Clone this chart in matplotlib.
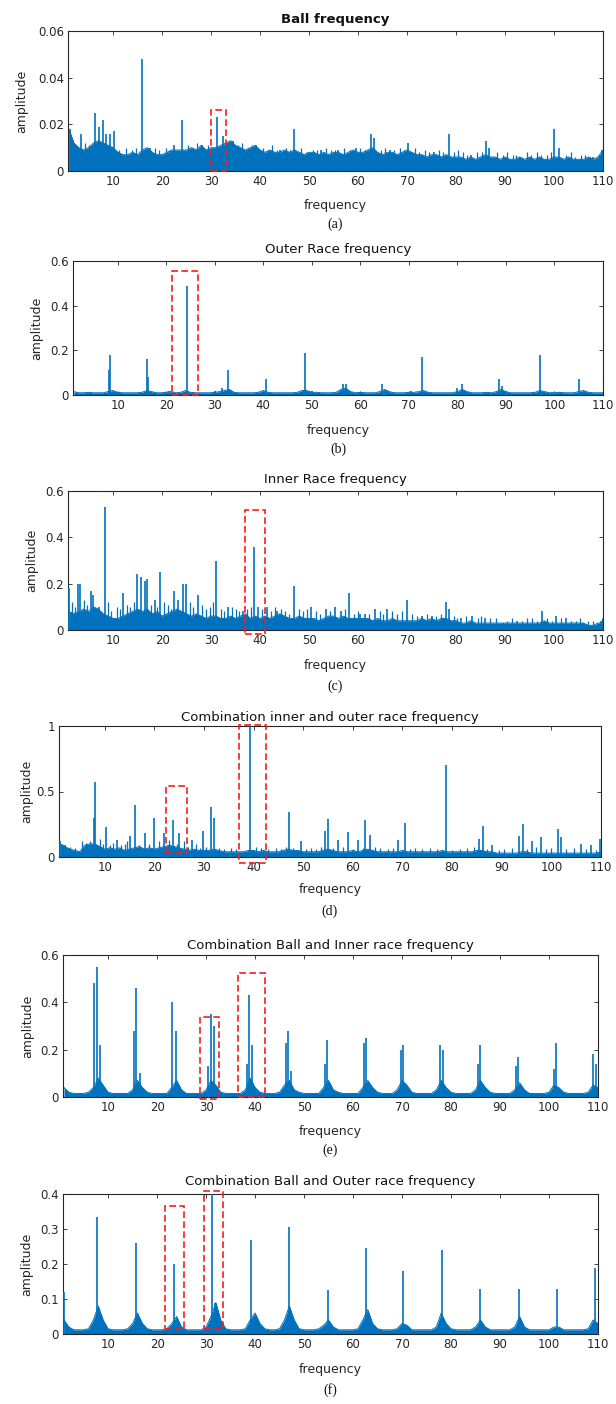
import numpy as np
import matplotlib
matplotlib.use("Agg")
import matplotlib.pyplot as plt
from matplotlib.patches import Rectangle

plt.rcParams['font.family'] = ['DejaVu Sans']

# ---------------- data ----------------
freq_grid = list(range(1, 111))  # 1 Hz grid for noise floors

titles = ["Ball frequency", "Outer Race frequency", "Inner Race frequency",
          "Combination inner and outer race frequency",
          "Combination Ball and Inner race frequency",
          "Combination Ball and Outer race frequency"]
sub_labels = ["(a)", "(b)", "(c)", "(d)", "(e)", "(f)"]
x_ticks = [10, 20, 30, 40, 50, 60, 70, 80, 90, 100, 110]

# (a) Ball frequency
noise_a = [0.018, 0.012, 0.010, 0.009, 0.010, 0.012, 0.013, 0.012, 0.011, 0.010,
           0.008, 0.007, 0.007, 0.008, 0.007, 0.009, 0.010, 0.008, 0.007, 0.007,
           0.008, 0.009, 0.009, 0.009, 0.009, 0.010, 0.009, 0.011, 0.009, 0.010,
           0.010, 0.011, 0.012, 0.013, 0.011, 0.010, 0.009, 0.010, 0.011, 0.009,
           0.008, 0.009, 0.008, 0.008, 0.009, 0.008, 0.009, 0.008, 0.007, 0.008,
           0.008, 0.007, 0.008, 0.007, 0.008, 0.008, 0.007, 0.008, 0.009, 0.008,
           0.008, 0.009, 0.010, 0.008, 0.007, 0.008, 0.008, 0.007, 0.008, 0.009,
           0.008, 0.007, 0.007, 0.006, 0.007, 0.007, 0.006, 0.007, 0.006, 0.006,
           0.006, 0.005, 0.006, 0.005, 0.006, 0.007, 0.006, 0.006, 0.005, 0.006,
           0.005, 0.005, 0.006, 0.005, 0.006, 0.005, 0.006, 0.005, 0.005, 0.006,
           0.006, 0.005, 0.006, 0.005, 0.005, 0.005, 0.006, 0.005, 0.006, 0.009]
peak_f_a = [1.2, 3.5, 6.4, 7.2, 8.0, 8.6, 9.4, 10.1, 15.9, 17.5, 22.5, 24.0, 28.2,
            31.2, 32.4, 34.5, 39.2, 44.0, 47.0, 52.5, 56.0, 59.5, 62.6, 63.2, 66.5,
            70.1, 75.5, 78.5, 83.0, 86.2, 86.7, 93.0, 100.0, 101.0, 108.0, 109.8]
peak_a_a = [0.018, 0.016, 0.025, 0.019, 0.022, 0.016, 0.016, 0.017, 0.048, 0.010,
            0.011, 0.022, 0.011, 0.023, 0.015, 0.013, 0.011, 0.009, 0.018, 0.009,
            0.009, 0.010, 0.016, 0.014, 0.009, 0.012, 0.008, 0.016, 0.007, 0.013,
            0.010, 0.006, 0.018, 0.010, 0.006, 0.009]
minor_f_a = [2.3, 4.2, 5.1, 11.3, 12.6, 13.8, 14.7, 18.6, 19.4, 20.8,
             21.6, 25.3, 26.4, 27.1, 29.3, 33.6, 35.6, 36.3, 37.5, 38.4,
             40.6, 41.7, 42.5, 43.4, 45.3, 46.2, 48.3, 49.6, 50.8, 51.6,
             53.4, 54.5, 55.3, 57.2, 58.4, 60.3, 61.4, 64.6, 65.5, 67.4,
             68.5, 69.3, 71.6, 72.5, 73.6, 74.4, 76.5, 77.3, 79.6, 80.5,
             81.4, 82.3, 84.2, 85.4, 88.3, 89.5, 90.4, 91.6, 92.3, 94.5,
             95.3, 96.6, 97.4, 98.5, 99.3, 102.4, 103.5, 104.3, 105.6, 106.4,
             107.3, 109.2]
minor_a_a = [0.011, 0.012, 0.011, 0.009, 0.010, 0.009, 0.010, 0.010, 0.009, 0.010,
             0.009, 0.011, 0.010, 0.012, 0.011, 0.012, 0.011, 0.012, 0.010, 0.011,
             0.010, 0.009, 0.011, 0.009, 0.010, 0.009, 0.010, 0.008, 0.009, 0.009,
             0.010, 0.009, 0.009, 0.010, 0.009, 0.010, 0.009, 0.009, 0.010, 0.009,
             0.010, 0.009, 0.010, 0.008, 0.009, 0.008, 0.009, 0.008, 0.008, 0.009,
             0.008, 0.007, 0.008, 0.008, 0.008, 0.007, 0.008, 0.007, 0.007, 0.008,
             0.007, 0.008, 0.007, 0.007, 0.008, 0.007, 0.008, 0.006, 0.007, 0.007,
             0.006, 0.007]

# (b) Outer race
noise_b = [0.015, 0.010, 0.010, 0.012, 0.010, 0.010, 0.010, 0.015, 0.020, 0.012,
           0.010, 0.010, 0.010, 0.010, 0.012, 0.020, 0.015, 0.010, 0.010, 0.012,
           0.015, 0.010, 0.012, 0.020, 0.012, 0.010, 0.010, 0.010, 0.010, 0.012,
           0.015, 0.020, 0.025, 0.012, 0.010, 0.010, 0.010, 0.010, 0.012, 0.020,
           0.012, 0.010, 0.010, 0.010, 0.010, 0.010, 0.012, 0.020, 0.020, 0.012,
           0.012, 0.010, 0.010, 0.010, 0.012, 0.025, 0.030, 0.015, 0.010, 0.012,
           0.010, 0.010, 0.010, 0.015, 0.025, 0.015, 0.010, 0.010, 0.010, 0.012,
           0.012, 0.015, 0.020, 0.012, 0.010, 0.010, 0.010, 0.010, 0.010, 0.015,
           0.025, 0.015, 0.010, 0.010, 0.010, 0.012, 0.010, 0.015, 0.025, 0.015,
           0.010, 0.010, 0.010, 0.010, 0.010, 0.012, 0.020, 0.015, 0.010, 0.010,
           0.012, 0.010, 0.010, 0.010, 0.015, 0.020, 0.012, 0.010, 0.010, 0.010]
peak_f_b = [8.2, 8.5, 16.0, 16.3, 20.5, 24.3, 30.0, 31.5, 32.8, 40.5, 48.6, 50.0,
            56.5, 57.0, 60.0, 64.5, 70.5, 72.8, 80.0, 81.0, 88.6, 89.2, 90.0, 97.0,
            99.5, 105.0]
peak_a_b = [0.11, 0.18, 0.16, 0.08, 0.02, 0.49, 0.02, 0.03, 0.11, 0.07, 0.19, 0.02,
            0.05, 0.05, 0.015, 0.05, 0.02, 0.17, 0.03, 0.05, 0.07, 0.04, 0.02, 0.18,
            0.015, 0.07]
minor_f_b = []
minor_a_b = []

# (c) Inner race
noise_c = [0.08, 0.07, 0.08, 0.09, 0.08, 0.10, 0.09, 0.07, 0.06, 0.05,
           0.05, 0.06, 0.07, 0.08, 0.09, 0.08, 0.09, 0.07, 0.08, 0.06,
           0.07, 0.08, 0.09, 0.08, 0.07, 0.06, 0.07, 0.06, 0.05, 0.06,
           0.06, 0.05, 0.05, 0.06, 0.05, 0.06, 0.07, 0.05, 0.06, 0.05,
           0.06, 0.05, 0.06, 0.07, 0.06, 0.05, 0.05, 0.06, 0.05, 0.05,
           0.05, 0.04, 0.05, 0.06, 0.06, 0.05, 0.06, 0.05, 0.05, 0.05,
           0.05, 0.05, 0.04, 0.05, 0.04, 0.04, 0.05, 0.04, 0.04, 0.04,
           0.04, 0.04, 0.05, 0.04, 0.05, 0.04, 0.05, 0.05, 0.04, 0.04,
           0.03, 0.03, 0.04, 0.03, 0.03, 0.03, 0.03, 0.03, 0.03, 0.03,
           0.03, 0.03, 0.03, 0.03, 0.03, 0.03, 0.03, 0.04, 0.03, 0.03,
           0.03, 0.03, 0.03, 0.03, 0.03, 0.03, 0.02, 0.02, 0.03, 0.03]
peak_f_c = [1.0, 2.8, 3.3, 5.5, 6.0, 7.2, 8.3, 10.0, 12.0, 14.8, 15.8, 16.5, 17.0,
            18.5, 19.6, 22.5, 23.2, 24.3, 24.8, 27.3, 31.0, 33.5, 36.5, 38.8, 39.6,
            41.5, 43.5, 47.0, 50.5, 53.5, 55.3, 56.5, 58.2, 60.5, 61.5, 63.5, 66.0,
            70.0, 73.0, 75.0, 78.0, 78.5, 81.0, 83.3, 86.0, 89.5, 92.5, 97.5, 100.5,
            102.5, 106.0, 109.5]
peak_a_c = [0.18, 0.20, 0.20, 0.17, 0.15, 0.10, 0.53, 0.05, 0.16, 0.24, 0.23, 0.21,
            0.22, 0.13, 0.25, 0.17, 0.13, 0.20, 0.20, 0.15, 0.30, 0.10, 0.08, 0.36,
            0.10, 0.10, 0.08, 0.19, 0.10, 0.09, 0.10, 0.08, 0.16, 0.07, 0.07, 0.09,
            0.09, 0.13, 0.06, 0.06, 0.12, 0.09, 0.05, 0.06, 0.05, 0.03, 0.04, 0.08,
            0.06, 0.05, 0.03, 0.04]
minor_f_c = [1.6, 2.2, 4.0, 4.6, 6.6, 9.0, 9.6, 10.7, 11.4, 12.8,
             13.5, 14.2, 17.7, 19.0, 20.4, 21.2, 21.8, 25.6, 26.3, 28.2,
             29.0, 29.8, 30.4, 32.0, 32.7, 34.3, 35.0, 35.8, 37.4, 38.2,
             40.3, 42.2, 43.0, 44.2, 45.0, 46.0, 48.0, 48.8, 49.6, 51.4,
             52.3, 54.3, 57.3, 59.2, 60.0, 62.3, 64.4, 65.1, 67.0, 68.0,
             69.0, 71.0, 72.0, 74.0, 76.0, 77.0, 79.5, 80.2, 82.0, 84.5,
             85.2, 87.0, 88.2, 90.5, 91.5, 93.5, 94.5, 95.5, 96.5, 98.5,
             99.5, 101.5, 103.5, 104.5, 105.3, 107.0, 108.0, 109.8]
minor_a_c = [0.12, 0.10, 0.13, 0.11, 0.09, 0.12, 0.08, 0.10, 0.09, 0.11,
             0.10, 0.12, 0.11, 0.10, 0.12, 0.11, 0.09, 0.12, 0.10, 0.11,
             0.09, 0.10, 0.12, 0.09, 0.08, 0.10, 0.09, 0.08, 0.09, 0.10,
             0.09, 0.08, 0.10, 0.09, 0.08, 0.07, 0.09, 0.08, 0.09, 0.08,
             0.07, 0.08, 0.09, 0.07, 0.08, 0.07, 0.08, 0.07, 0.08, 0.07,
             0.08, 0.07, 0.06, 0.07, 0.06, 0.07, 0.06, 0.05, 0.06, 0.05,
             0.06, 0.05, 0.05, 0.04, 0.05, 0.04, 0.05, 0.05, 0.04, 0.05,
             0.04, 0.05, 0.04, 0.04, 0.05, 0.04, 0.04, 0.05]

# (d) Combination inner and outer race
noise_d = [0.10, 0.08, 0.06, 0.05, 0.04, 0.09, 0.10, 0.10, 0.08, 0.06,
           0.07, 0.06, 0.07, 0.05, 0.06, 0.07, 0.08, 0.06, 0.07, 0.06,
           0.07, 0.08, 0.09, 0.08, 0.07, 0.06, 0.05, 0.06, 0.05, 0.05,
           0.05, 0.06, 0.05, 0.04, 0.04, 0.04, 0.04, 0.04, 0.05, 0.05,
           0.04, 0.05, 0.04, 0.04, 0.04, 0.05, 0.06, 0.05, 0.05, 0.04,
           0.04, 0.04, 0.04, 0.05, 0.06, 0.05, 0.04, 0.04, 0.04, 0.05,
           0.04, 0.05, 0.06, 0.05, 0.04, 0.04, 0.04, 0.04, 0.04, 0.05,
           0.04, 0.04, 0.04, 0.04, 0.04, 0.04, 0.04, 0.05, 0.04, 0.04,
           0.04, 0.04, 0.04, 0.04, 0.05, 0.05, 0.04, 0.04, 0.03, 0.03,
           0.03, 0.03, 0.03, 0.04, 0.04, 0.03, 0.03, 0.03, 0.03, 0.03,
           0.03, 0.03, 0.03, 0.03, 0.03, 0.03, 0.03, 0.03, 0.03, 0.04]
peak_f_d = [1.0, 2.0, 7.8, 8.0, 10.2, 12.5, 15.2, 16.2, 18.2, 20.0, 22.0, 23.8,
            25.0, 27.5, 29.8, 31.5, 32.0, 39.2, 47.2, 49.5, 54.3, 55.0, 57.0, 59.0,
            61.0, 62.5, 63.5, 69.0, 70.5, 78.7, 85.5, 86.3, 88.0, 93.5, 94.2, 96.0,
            98.0, 101.3, 102.0, 106.0, 108.0, 109.8]
peak_a_d = [0.12, 0.09, 0.30, 0.57, 0.23, 0.13, 0.16, 0.40, 0.18, 0.30, 0.18, 0.28,
            0.18, 0.13, 0.20, 0.38, 0.30, 1.00, 0.34, 0.12, 0.20, 0.29, 0.13, 0.19,
            0.13, 0.28, 0.17, 0.13, 0.26, 0.70, 0.14, 0.24, 0.09, 0.16, 0.25, 0.12,
            0.15, 0.21, 0.15, 0.10, 0.09, 0.14]
minor_f_d = [1.5, 3.0, 4.0, 5.5, 6.3, 7.0, 9.0, 9.6, 11.0, 11.7,
             13.2, 14.0, 14.6, 17.0, 19.0, 21.0, 23.0, 24.5, 26.0, 26.8,
             28.5, 29.2, 30.5, 33.0, 34.0, 35.5, 36.5, 40.5, 41.5, 43.0,
             44.5, 45.5, 46.5, 48.0, 50.5, 51.5, 52.5, 53.5, 56.0, 58.0,
             60.0, 62.0, 64.5, 65.5, 67.0, 68.0, 71.5, 72.5, 74.0, 75.5,
             77.0, 80.0, 81.5, 83.0, 84.5, 87.0, 89.5, 90.5, 92.0, 95.0,
             97.0, 99.0, 100.0, 103.0, 104.5, 107.0, 109.0]
minor_a_d = [0.10, 0.08, 0.07, 0.12, 0.11, 0.12, 0.14, 0.10, 0.09, 0.11,
             0.09, 0.10, 0.12, 0.09, 0.10, 0.12, 0.13, 0.10, 0.12, 0.08,
             0.10, 0.07, 0.08, 0.07, 0.06, 0.07, 0.06, 0.08, 0.07, 0.06,
             0.07, 0.06, 0.08, 0.07, 0.06, 0.07, 0.06, 0.08, 0.07, 0.08,
             0.06, 0.07, 0.08, 0.07, 0.06, 0.07, 0.06, 0.07, 0.06, 0.07,
             0.06, 0.05, 0.06, 0.07, 0.08, 0.06, 0.05, 0.06, 0.07, 0.06,
             0.08, 0.06, 0.07, 0.06, 0.07, 0.06, 0.05]

# (e) Combination ball and inner race
noise_e = [0.04, 0.02, 0.015, 0.015, 0.015, 0.02, 0.04, 0.08, 0.05, 0.02,
           0.015, 0.015, 0.015, 0.015, 0.03, 0.07, 0.04, 0.02, 0.015, 0.015,
           0.015, 0.015, 0.04, 0.07, 0.03, 0.015, 0.015, 0.015, 0.015, 0.03,
           0.07, 0.05, 0.02, 0.015, 0.015, 0.015, 0.015, 0.03, 0.08, 0.04,
           0.02, 0.015, 0.015, 0.015, 0.02, 0.05, 0.07, 0.03, 0.02, 0.015,
           0.015, 0.015, 0.015, 0.04, 0.07, 0.03, 0.02, 0.015, 0.015, 0.015,
           0.015, 0.04, 0.07, 0.04, 0.02, 0.015, 0.015, 0.015, 0.03, 0.07,
           0.05, 0.02, 0.015, 0.015, 0.015, 0.015, 0.03, 0.07, 0.04, 0.02,
           0.015, 0.015, 0.015, 0.015, 0.03, 0.07, 0.04, 0.02, 0.015, 0.015,
           0.015, 0.015, 0.03, 0.06, 0.03, 0.015, 0.015, 0.015, 0.015, 0.02,
           0.05, 0.04, 0.02, 0.015, 0.015, 0.015, 0.015, 0.02, 0.05, 0.04]
peak_f_e = [7.2, 7.8, 8.3, 15.3, 15.8, 16.5, 23.0, 23.8, 30.4, 31.0, 31.6, 38.4,
            38.8, 39.3, 46.3, 46.8, 47.3, 54.2, 54.7, 55.5, 62.2, 62.6, 69.8, 70.3,
            77.8, 78.3, 85.6, 86.0, 93.2, 93.6, 101.0, 101.5, 109.0, 109.5]
peak_a_e = [0.48, 0.55, 0.22, 0.28, 0.46, 0.10, 0.40, 0.28, 0.13, 0.35, 0.30, 0.14,
            0.43, 0.22, 0.23, 0.28, 0.11, 0.14, 0.24, 0.05, 0.23, 0.25, 0.20, 0.22,
            0.22, 0.20, 0.14, 0.22, 0.13, 0.17, 0.12, 0.23, 0.18, 0.14]
minor_f_e = []
minor_a_e = []

# (f) Combination ball and outer race
noise_f = [0.04, 0.02, 0.012, 0.012, 0.012, 0.015, 0.04, 0.08, 0.04, 0.015,
           0.012, 0.012, 0.012, 0.015, 0.03, 0.06, 0.03, 0.015, 0.012, 0.012,
           0.012, 0.015, 0.03, 0.05, 0.02, 0.012, 0.012, 0.012, 0.012, 0.02,
           0.05, 0.09, 0.04, 0.015, 0.012, 0.012, 0.012, 0.015, 0.04, 0.06,
           0.03, 0.015, 0.012, 0.012, 0.015, 0.04, 0.08, 0.04, 0.015, 0.012,
           0.012, 0.012, 0.015, 0.025, 0.04, 0.02, 0.012, 0.012, 0.012, 0.012,
           0.015, 0.04, 0.07, 0.03, 0.015, 0.012, 0.012, 0.012, 0.015, 0.03,
           0.025, 0.012, 0.012, 0.012, 0.012, 0.012, 0.02, 0.06, 0.03, 0.015,
           0.012, 0.012, 0.012, 0.012, 0.02, 0.04, 0.02, 0.012, 0.012, 0.012,
           0.012, 0.012, 0.02, 0.05, 0.02, 0.012, 0.012, 0.012, 0.012, 0.012,
           0.02, 0.02, 0.012, 0.012, 0.012, 0.012, 0.012, 0.015, 0.04, 0.03]
peak_f_f = [1.0, 7.8, 15.7, 23.5, 31.3, 31.9, 39.2, 47.0, 54.9, 62.7, 70.2, 78.1,
            86.0, 93.8, 101.6, 109.4]
peak_a_f = [0.12, 0.335, 0.26, 0.20, 0.40, 0.09, 0.27, 0.305, 0.125, 0.245, 0.18,
            0.24, 0.13, 0.13, 0.13, 0.19]
minor_f_f = []
minor_a_f = []

y_ticks = [[0, 0.02, 0.04, 0.06], [0, 0.2, 0.4, 0.6], [0, 0.2, 0.4, 0.6],
           [0, 0.5, 1], [0, 0.2, 0.4, 0.6], [0, 0.1, 0.2, 0.3, 0.4]]
y_ticklabels = [["0", "0.02", "0.04", "0.06"], ["0", "0.2", "0.4", "0.6"],
                ["0", "0.2", "0.4", "0.6"], ["0", "0.5", "1"],
                ["0", "0.2", "0.4", "0.6"], ["0", "0.1", "0.2", "0.3", "0.4"]]

# highlighted regions: (x0, x1, y0, y1) per panel
boxes = [
    [(30.0, 33.0, 0.0, 0.026)],
    [(21.2, 26.6, 0.0, 0.555)],
    [(36.9, 41.0, -0.016, 0.52)],
    [(22.4, 26.6, 0.03, 0.54), (37.0, 42.6, -0.045, 1.01)],
    [(28.7, 32.6, -0.008, 0.34), (36.6, 42.0, 0.0, 0.525)],
    [(21.6, 25.4, 0.015, 0.365), (29.6, 33.4, 0.015, 0.41)],
]

noises = [noise_a, noise_b, noise_c, noise_d, noise_e, noise_f]
peaks_f = [peak_f_a, peak_f_b, peak_f_c, peak_f_d, peak_f_e, peak_f_f]
peaks_a = [peak_a_a, peak_a_b, peak_a_c, peak_a_d, peak_a_e, peak_a_f]
minors_f = [minor_f_a, minor_f_b, minor_f_c, minor_f_d, minor_f_e, minor_f_f]
minors_a = [minor_a_a, minor_a_b, minor_a_c, minor_a_d, minor_a_e, minor_a_f]

# ---------------- layout (pixels) ----------------
W, H = 616, 1404
rects = [(68, 603, 31, 171), (73, 603, 261, 395), (68, 603, 491, 630),
         (59, 601, 726, 857), (63, 598, 955, 1097), (63, 598, 1194, 1334)]
title_y = [20, 250, 480, 718, 945, 1182]
xlabel_y = [205, 431, 666, 889, 1131, 1369]
sub_y = [224, 449, 686, 911, 1150, 1390]
ylabel_x = [22, 37, 32, 27, 28, 27]

fig = plt.figure(figsize=(W / 100, H / 100), dpi=100)
BLUE = '#0072BD'
DARK = '#262626'

for i in range(6):
    L, R, T, B = rects[i]
    ax = fig.add_axes([L / W, 1 - B / H, (R - L) / W, (B - T) / H])
    ylim_top = y_ticks[i][-1]
    ax.fill_between(freq_grid, 0, noises[i], color=BLUE, lw=0, zorder=2)
    ax.plot(freq_grid, noises[i], color=BLUE, lw=0.7, zorder=2)
    mf = minors_f[i][:len(minors_a[i])]
    ma = minors_a[i][:len(mf)]
    if mf:
        ax.vlines(mf, 0, ma, color=BLUE, lw=0.9, zorder=2)
    ax.vlines(peaks_f[i], 0, peaks_a[i], color=BLUE, lw=1.2, zorder=3)
    ax.set_xlim(0.8, 110)
    ax.set_ylim(0, ylim_top)
    ax.set_xticks(x_ticks)
    ax.set_yticks(y_ticks[i])
    ax.set_yticklabels(y_ticklabels[i])
    ax.tick_params(direction='in', length=3, width=0.6, top=True, right=True,
                   labelsize=8.5, colors=DARK, pad=3)
    for s in ax.spines.values():
        s.set_color(DARK)
        s.set_linewidth(0.8)
    for (x0, x1, y0, y1) in boxes[i]:
        ax.add_patch(Rectangle((x0, y0), x1 - x0, y1 - y0, fill=False,
                               ec='#FF1A1A', lw=1.2, ls=(0, (4, 2)),
                               clip_on=False, zorder=5))
    cx = (L + R) / 2 / W
    fig.text(cx, 1 - title_y[i] / H, titles[i], ha='center', va='center',
             fontsize=9.5, color='#111111',
             fontweight='bold' if i == 0 else 'normal')
    fig.text(cx, 1 - xlabel_y[i] / H, "frequency", ha='center', va='center',
             fontsize=9, color=DARK)
    fig.text(cx, 1 - sub_y[i] / H, sub_labels[i], ha='center', va='center',
             fontsize=10, color='#111111', family='Liberation Serif')
    fig.text(ylabel_x[i] / W, 1 - (T + B) / 2 / H, "amplitude", ha='center',
             va='center', rotation=90, fontsize=9, color=DARK)

fig.savefig('out.png', dpi=100, facecolor='white')
